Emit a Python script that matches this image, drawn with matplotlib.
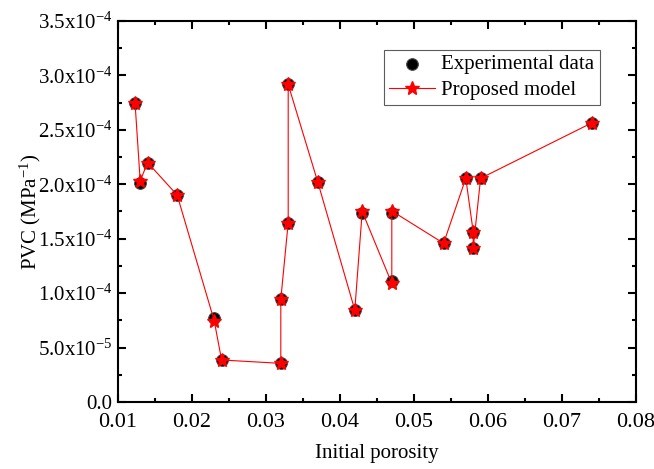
import matplotlib
matplotlib.use("Agg")
import matplotlib.pyplot as plt
from matplotlib.ticker import MultipleLocator, FuncFormatter

plt.rcParams['font.family'] = ['Liberation Serif', 'DejaVu Serif']
plt.rcParams['mathtext.fontset'] = 'custom'
plt.rcParams['mathtext.rm'] = 'Liberation Serif'
plt.rcParams['mathtext.default'] = 'regular'

# initial porosity
porosity = [0.0123, 0.013, 0.014, 0.018, 0.023, 0.024, 0.032, 0.032, 0.033, 0.033, 0.037,
            0.042, 0.043, 0.047, 0.047, 0.054, 0.057, 0.058, 0.058, 0.059, 0.074]
# PVC, experimental
pvc_exp = [2.75e-4, 2.01e-4, 2.20e-4, 1.90e-4, 7.7e-5, 3.86e-5, 3.55e-5, 9.43e-5, 1.647e-4,
           2.917e-4, 2.02e-4, 8.45e-5, 1.733e-4, 1.114e-4, 1.736e-4, 1.458e-4, 2.055e-4,
           1.564e-4, 1.412e-4, 2.055e-4, 2.563e-4]
# PVC, proposed model
pvc_model = [2.75e-4, 2.03e-4, 2.20e-4, 1.90e-4, 7.47e-5, 3.86e-5, 3.55e-5, 9.43e-5, 1.647e-4,
             2.917e-4, 2.02e-4, 8.45e-5, 1.75e-4, 1.09e-4, 1.755e-4, 1.458e-4, 2.055e-4,
             1.564e-4, 1.412e-4, 2.055e-4, 2.563e-4]


def sci_fmt(v, pos):
    if abs(v) < 1e-12:
        return "0.0"
    s = "%.1e" % v
    mant, ex = s.split("e")
    return r"%sx10$^{%d}$" % (mant, int(ex))


fig = plt.figure(figsize=(6.54, 4.69), dpi=100)
ax = fig.add_axes([118 / 654, 1 - 402 / 469, 518 / 654, 381 / 469])

ax.scatter(porosity, pvc_exp, s=70, c='black', edgecolors='#444444', linewidths=0.8,
           zorder=3, label='Experimental data')
ax.plot(porosity, pvc_model, color='red', lw=0.8, marker='*', ms=10, mfc='red',
        mec='red', zorder=4, label='Proposed model')

ax.set_xlim(0.01, 0.08)
ax.set_ylim(0, 3.5e-4)
ax.xaxis.set_major_locator(MultipleLocator(0.01))
ax.xaxis.set_minor_locator(MultipleLocator(0.005))
ax.yaxis.set_major_locator(MultipleLocator(5e-5))
ax.yaxis.set_minor_locator(MultipleLocator(2.5e-5))
ax.xaxis.set_major_formatter(FuncFormatter(lambda v, p: "%.2f" % v))
ax.yaxis.set_major_formatter(FuncFormatter(sci_fmt))

ax.tick_params(which='both', direction='in', top=True, right=True, width=1.5)
ax.tick_params(which='major', length=5.5)
ax.tick_params(which='minor', length=3)
ax.tick_params(axis='x', labelsize=16, pad=8)
ax.tick_params(axis='y', labelsize=15, pad=4)
for sp in ax.spines.values():
    sp.set_linewidth(1.5)

ax.set_xlabel('Initial porosity', fontsize=15)
ax.set_ylabel('PVC (MPa$^{-1}$)', fontsize=15)
ax.xaxis.set_label_coords(0.5, -0.11)
ax.yaxis.set_label_coords(-0.145, 0.5)

leg = ax.legend(loc='upper right', bbox_to_anchor=(0.93, 0.925), fontsize=15, frameon=True,
                fancybox=False, edgecolor='#333333', handlelength=2.2, borderpad=0.25,
                labelspacing=0.3, handletextpad=0.3, borderaxespad=0)
leg.get_frame().set_linewidth(0.8)

fig.savefig('out.png', dpi=100)
